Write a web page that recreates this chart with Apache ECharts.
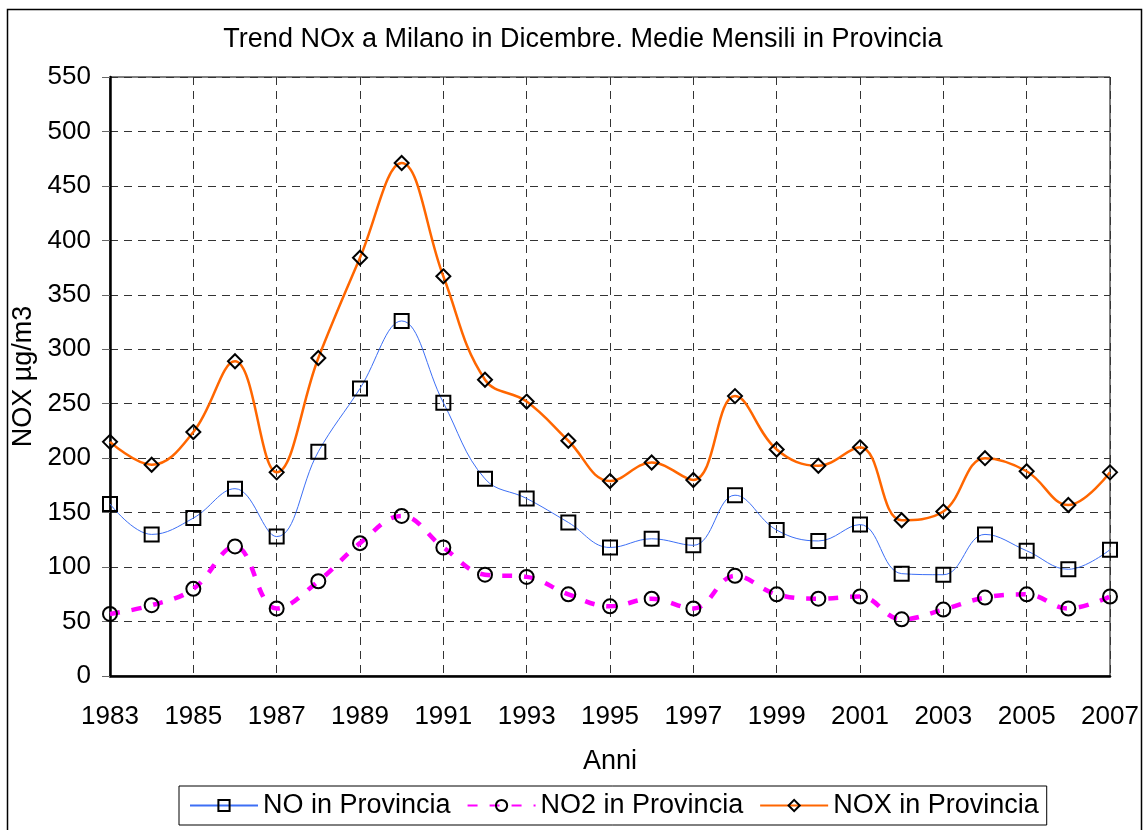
<!DOCTYPE html>
<html>
<head>
<meta charset="utf-8">
<script src="https://cdn.jsdelivr.net/npm/echarts@6/dist/echarts.min.js"></script>
<style>
html,body{margin:0;padding:0;background:#fff;}
#chart{width:1144px;height:830px;}
</style>
</head>
<body>
<div id="chart"></div>
<script>
const years = ['1983','1984','1985','1986','1987','1988','1989','1990','1991','1992','1993','1994','1995','1996','1997','1998','1999','2000','2001','2002','2003','2004','2005','2006','2007'];
const noValues  = [158,130,145,172,128,206,264,326,251,181,163,141,118,126,120,166,134,124,139,94,93,130,115,98,116];
const no2Values = [57,65,80,119,62,87,122,147,118,93,91,75,64,71,62,92,75,71,73,52,61,72,75,62,73];
const noxValues = [215,194,224,289,187,292,384,471,367,272,252,216,179,196,180,257,208,193,210,143,151,200,188,157,187];
const titleText = 'Trend NOx a Milano in Dicembre. Medie Mensili in Provincia';
const seriesNames = ['NO in Provincia','NO2 in Provincia','NOX in Provincia'];

const font = '"Liberation Sans", Arial, sans-serif';
const chart = echarts.init(document.getElementById('chart'), null, {renderer:'canvas'});
const markerStyle = {color:'rgba(0,0,0,0)', borderColor:'#000', borderWidth:2};
chart.setOption({
  animation:false,
  backgroundColor:'#fff',
  graphic:[{type:'rect', shape:{x:7.5,y:9.5,width:1134,height:840}, style:{fill:'none', stroke:'#000', lineWidth:1.5}, silent:true, z:-1}],
  title:{text:titleText, left:578, textAlign:'center', top:21, textStyle:{fontFamily:font, fontWeight:'normal', fontSize:27, color:'#000'}},
  legend:{
    data:seriesNames, left:179, top:786,
    borderColor:'#000', borderWidth:1, padding:[6,8,6,10], itemGap:16, itemWidth:68, itemHeight:14,
    textStyle:{fontFamily:font, fontSize:27, color:'#000'}
  },
  grid:{left:110, right:34, top:77, bottom:154, show:true, borderColor:'#000', borderWidth:1, outerBoundsMode:'none', containLabel:false},
  xAxis:{
    type:'category', data:years, boundaryGap:false,
    name:'Anni', nameLocation:'middle', nameGap:72,
    nameTextStyle:{fontFamily:font, fontSize:27, color:'#000'},
    axisLine:{lineStyle:{color:'#000', width:2.5}},
    axisTick:{show:false},
    axisLabel:{interval:1, fontFamily:font, fontSize:26, color:'#000', margin:28},
    splitLine:{show:true, interval:1, lineStyle:{color:'#333', type:[8,6], width:1}}
  },
  yAxis:{
    type:'value', min:0, max:550, interval:50,
    name:'NOX µg/m3', nameLocation:'middle', nameGap:66, nameRotate:90,
    nameTextStyle:{fontFamily:font, fontSize:27, color:'#000'},
    axisLine:{show:true, lineStyle:{color:'#000', width:2.5}},
    axisTick:{show:true, length:8, lineStyle:{color:'#666', width:1}},
    axisLabel:{fontFamily:font, fontSize:26, color:'#000', margin:19},
    splitLine:{show:true, lineStyle:{color:'#333', type:[8,6], width:1}}
  },
  series:[
    {name:seriesNames[0], type:'line', data:noValues, smooth:0.4, symbol:'rect', symbolSize:14,
     lineStyle:{color:'#3d6ff5', width:1}, itemStyle:markerStyle, emphasis:{disabled:true}, z:3},
    {name:seriesNames[1], type:'line', data:no2Values, smooth:0.4, symbol:'circle', symbolSize:14,
     lineStyle:{color:'#ff00ff', width:4.5, type:[10,12]}, itemStyle:markerStyle, emphasis:{disabled:true}, z:2},
    {name:seriesNames[2], type:'line', data:noxValues, smooth:0.4, symbol:'diamond', symbolSize:14,
     lineStyle:{color:'#ff6600', width:2.5}, itemStyle:markerStyle, emphasis:{disabled:true}, z:4}
  ]
});
</script>
</body>
</html>
